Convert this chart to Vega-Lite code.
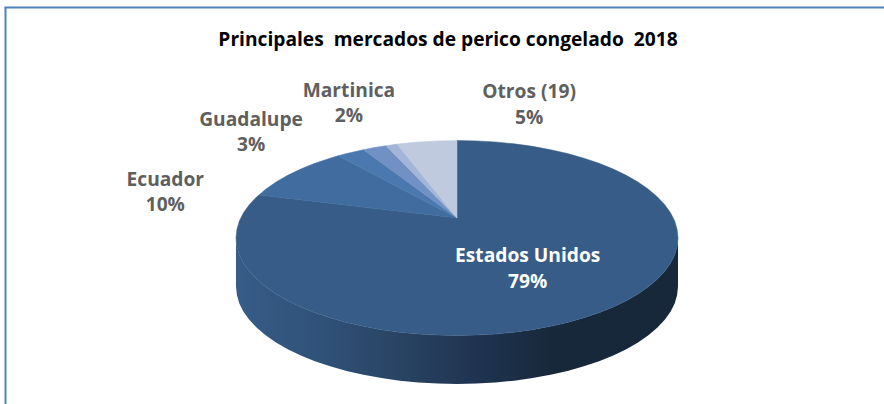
{
"$schema":"https://vega.github.io/schema/vega-lite/v6.json",
"width":884,"height":404,"padding":0,"autosize":{"type":"none"},
"background":"white",
"view":{"stroke":null},
"title":{"text":"Principales\u00a0 mercados de perico congelado\u00a0 2018","font":"Open Sans","fontSize":19.2,"fontWeight":"bold","color":"#000000","anchor":"middle","dx":6,"dy":0,"offset":-59,"baseline":"middle"},
"datasets":{
"slices":[
{"slice":"Estados Unidos","i":0,"u":0,"v":0.205},
{"slice":"Estados Unidos","i":1,"u":0,"v":1},
{"slice":"Estados Unidos","i":2,"u":0.087,"v":0.996},
{"slice":"Estados Unidos","i":3,"u":0.174,"v":0.985},
{"slice":"Estados Unidos","i":4,"u":0.259,"v":0.966},
{"slice":"Estados Unidos","i":5,"u":0.342,"v":0.94},
{"slice":"Estados Unidos","i":6,"u":0.423,"v":0.906},
{"slice":"Estados Unidos","i":7,"u":0.5,"v":0.866},
{"slice":"Estados Unidos","i":8,"u":0.574,"v":0.819},
{"slice":"Estados Unidos","i":9,"u":0.643,"v":0.766},
{"slice":"Estados Unidos","i":10,"u":0.707,"v":0.707},
{"slice":"Estados Unidos","i":11,"u":0.766,"v":0.643},
{"slice":"Estados Unidos","i":12,"u":0.819,"v":0.574},
{"slice":"Estados Unidos","i":13,"u":0.866,"v":0.5},
{"slice":"Estados Unidos","i":14,"u":0.906,"v":0.423},
{"slice":"Estados Unidos","i":15,"u":0.94,"v":0.342},
{"slice":"Estados Unidos","i":16,"u":0.966,"v":0.259},
{"slice":"Estados Unidos","i":17,"u":0.985,"v":0.174},
{"slice":"Estados Unidos","i":18,"u":0.996,"v":0.087},
{"slice":"Estados Unidos","i":19,"u":1,"v":0},
{"slice":"Estados Unidos","i":20,"u":0.996,"v":-0.087},
{"slice":"Estados Unidos","i":21,"u":0.985,"v":-0.174},
{"slice":"Estados Unidos","i":22,"u":0.966,"v":-0.259},
{"slice":"Estados Unidos","i":23,"u":0.94,"v":-0.342},
{"slice":"Estados Unidos","i":24,"u":0.906,"v":-0.423},
{"slice":"Estados Unidos","i":25,"u":0.866,"v":-0.5},
{"slice":"Estados Unidos","i":26,"u":0.819,"v":-0.574},
{"slice":"Estados Unidos","i":27,"u":0.766,"v":-0.643},
{"slice":"Estados Unidos","i":28,"u":0.707,"v":-0.707},
{"slice":"Estados Unidos","i":29,"u":0.643,"v":-0.766},
{"slice":"Estados Unidos","i":30,"u":0.574,"v":-0.819},
{"slice":"Estados Unidos","i":31,"u":0.5,"v":-0.866},
{"slice":"Estados Unidos","i":32,"u":0.423,"v":-0.906},
{"slice":"Estados Unidos","i":33,"u":0.342,"v":-0.94},
{"slice":"Estados Unidos","i":34,"u":0.259,"v":-0.966},
{"slice":"Estados Unidos","i":35,"u":0.174,"v":-0.985},
{"slice":"Estados Unidos","i":36,"u":0.087,"v":-0.996},
{"slice":"Estados Unidos","i":37,"u":0,"v":-1},
{"slice":"Estados Unidos","i":38,"u":-0.087,"v":-0.996},
{"slice":"Estados Unidos","i":39,"u":-0.174,"v":-0.985},
{"slice":"Estados Unidos","i":40,"u":-0.259,"v":-0.966},
{"slice":"Estados Unidos","i":41,"u":-0.342,"v":-0.94},
{"slice":"Estados Unidos","i":42,"u":-0.423,"v":-0.906},
{"slice":"Estados Unidos","i":43,"u":-0.5,"v":-0.866},
{"slice":"Estados Unidos","i":44,"u":-0.574,"v":-0.819},
{"slice":"Estados Unidos","i":45,"u":-0.643,"v":-0.766},
{"slice":"Estados Unidos","i":46,"u":-0.707,"v":-0.707},
{"slice":"Estados Unidos","i":47,"u":-0.766,"v":-0.643},
{"slice":"Estados Unidos","i":48,"u":-0.819,"v":-0.574},
{"slice":"Estados Unidos","i":49,"u":-0.866,"v":-0.5},
{"slice":"Estados Unidos","i":50,"u":-0.906,"v":-0.423},
{"slice":"Estados Unidos","i":51,"u":-0.94,"v":-0.342},
{"slice":"Estados Unidos","i":52,"u":-0.966,"v":-0.259},
{"slice":"Estados Unidos","i":53,"u":-0.985,"v":-0.174},
{"slice":"Estados Unidos","i":54,"u":-0.996,"v":-0.087},
{"slice":"Estados Unidos","i":55,"u":-1,"v":0},
{"slice":"Estados Unidos","i":56,"u":-0.996,"v":0.087},
{"slice":"Estados Unidos","i":57,"u":-0.985,"v":0.174},
{"slice":"Estados Unidos","i":58,"u":-0.966,"v":0.259},
{"slice":"Estados Unidos","i":59,"u":-0.94,"v":0.342},
{"slice":"Estados Unidos","i":60,"u":-0.906,"v":0.423},
{"slice":"Estados Unidos","i":61,"u":-0.896,"v":0.441},
{"slice":"Estados Unidos","i":62,"u":0,"v":0.205},
{"slice":"Ecuador","i":0,"u":0,"v":0.205},
{"slice":"Ecuador","i":1,"u":-0.896,"v":0.441},
{"slice":"Ecuador","i":2,"u":-0.866,"v":0.5},
{"slice":"Ecuador","i":3,"u":-0.819,"v":0.574},
{"slice":"Ecuador","i":4,"u":-0.766,"v":0.643},
{"slice":"Ecuador","i":5,"u":-0.707,"v":0.707},
{"slice":"Ecuador","i":6,"u":-0.643,"v":0.766},
{"slice":"Ecuador","i":7,"u":-0.574,"v":0.819},
{"slice":"Ecuador","i":8,"u":-0.538,"v":0.843},
{"slice":"Ecuador","i":9,"u":0,"v":0.205},
{"slice":"Guadalupe","i":0,"u":0,"v":0.205},
{"slice":"Guadalupe","i":1,"u":-0.538,"v":0.843},
{"slice":"Guadalupe","i":2,"u":-0.5,"v":0.866},
{"slice":"Guadalupe","i":3,"u":-0.423,"v":0.906},
{"slice":"Guadalupe","i":4,"u":0,"v":0.205},
{"slice":"Martinica","i":0,"u":0,"v":0.205},
{"slice":"Martinica","i":1,"u":-0.423,"v":0.906},
{"slice":"Martinica","i":2,"u":-0.375,"v":0.927},
{"slice":"Martinica","i":3,"u":-0.321,"v":0.947},
{"slice":"Martinica","i":4,"u":0,"v":0.205},
{"slice":"Otro menor","i":0,"u":0,"v":0.205},
{"slice":"Otro menor","i":1,"u":-0.321,"v":0.947},
{"slice":"Otro menor","i":2,"u":-0.271,"v":0.963},
{"slice":"Otro menor","i":3,"u":0,"v":0.205},
{"slice":"Otros (19)","i":0,"u":0,"v":0.205},
{"slice":"Otros (19)","i":1,"u":-0.271,"v":0.963},
{"slice":"Otros (19)","i":2,"u":-0.216,"v":0.976},
{"slice":"Otros (19)","i":3,"u":-0.174,"v":0.985},
{"slice":"Otros (19)","i":4,"u":-0.087,"v":0.996},
{"slice":"Otros (19)","i":5,"u":0,"v":1},
{"slice":"Otros (19)","i":6,"u":0,"v":0.205}
],
"wall":[
{"u":-1,"v":0,"v2":-0.497},
{"u":-0.996,"v":-0.087,"v2":-0.584},
{"u":-0.985,"v":-0.174,"v2":-0.671},
{"u":-0.966,"v":-0.259,"v2":-0.756},
{"u":-0.94,"v":-0.342,"v2":-0.839},
{"u":-0.906,"v":-0.423,"v2":-0.92},
{"u":-0.866,"v":-0.5,"v2":-0.997},
{"u":-0.819,"v":-0.574,"v2":-1.071},
{"u":-0.766,"v":-0.643,"v2":-1.14},
{"u":-0.707,"v":-0.707,"v2":-1.204},
{"u":-0.643,"v":-0.766,"v2":-1.263},
{"u":-0.574,"v":-0.819,"v2":-1.316},
{"u":-0.5,"v":-0.866,"v2":-1.363},
{"u":-0.423,"v":-0.906,"v2":-1.403},
{"u":-0.342,"v":-0.94,"v2":-1.437},
{"u":-0.259,"v":-0.966,"v2":-1.463},
{"u":-0.174,"v":-0.985,"v2":-1.482},
{"u":-0.087,"v":-0.996,"v2":-1.493},
{"u":0,"v":-1,"v2":-1.497},
{"u":0.087,"v":-0.996,"v2":-1.493},
{"u":0.174,"v":-0.985,"v2":-1.482},
{"u":0.259,"v":-0.966,"v2":-1.463},
{"u":0.342,"v":-0.94,"v2":-1.437},
{"u":0.423,"v":-0.906,"v2":-1.403},
{"u":0.5,"v":-0.866,"v2":-1.363},
{"u":0.574,"v":-0.819,"v2":-1.316},
{"u":0.643,"v":-0.766,"v2":-1.263},
{"u":0.707,"v":-0.707,"v2":-1.204},
{"u":0.766,"v":-0.643,"v2":-1.14},
{"u":0.819,"v":-0.574,"v2":-1.071},
{"u":0.866,"v":-0.5,"v2":-0.997},
{"u":0.906,"v":-0.423,"v2":-0.92},
{"u":0.94,"v":-0.342,"v2":-0.839},
{"u":0.966,"v":-0.259,"v2":-0.756},
{"u":0.985,"v":-0.174,"v2":-0.671},
{"u":0.996,"v":-0.087,"v2":-0.584},
{"u":1,"v":0,"v2":-0.497}
],
"labels":[
{"label":"Estados Unidos\n79%","tone":"inside","u":0.32,"v":-0.187},
{"label":"Ecuador\n10%","tone":"outside","u":-1.32,"v":0.598},
{"label":"Guadalupe\n3%","tone":"outside","u":-0.932,"v":1.213},
{"label":"Martinica\n2%","tone":"outside","u":-0.489,"v":1.508},
{"label":"Otros (19)\n5%","tone":"outside","u":0.326,"v":1.493}
],
"frameTop":[{"u":-2.047,"u2":1.932,"v":2.364}],
"frameLeft":[{"u":-2.043,"v":2.37,"v2":-1.703}]
},
"layer":[
{"data":{"name":"frameTop"},"mark":{"type":"rule","color":"#4F81BD","strokeWidth":2},
 "encoding":{"x":{"field":"u","type":"quantitative","scale":{"domain":[-2.0679,1.9321]},"axis":null},"x2":{"field":"u2"},"y":{"field":"v","type":"quantitative","scale":{"domain":[-1.7026,2.441]},"axis":null}}},
{"data":{"name":"frameLeft"},"mark":{"type":"rule","color":"#4F81BD","strokeWidth":2},
 "encoding":{"x":{"field":"u","type":"quantitative","scale":{"domain":[-2.0679,1.9321]},"axis":null},"y":{"field":"v","type":"quantitative","scale":{"domain":[-1.7026,2.441]},"axis":null},"y2":{"field":"v2"}}},
{"data":{"name":"wall"},"mark":{"type":"area","fill":{"gradient":"linear","x1":0,"y1":0,"x2":1,"y2":0,"stops":[{"offset":0,"color":"#375C87"},{"offset":0.18,"color":"#30527A"},{"offset":0.35,"color":"#2A4565"},{"offset":0.55,"color":"#1F3350"},{"offset":0.72,"color":"#17283A"},{"offset":1,"color":"#18273A"}]}},
 "encoding":{"x":{"field":"u","type":"quantitative","scale":{"domain":[-2.0679,1.9321]},"axis":null},"y":{"field":"v","type":"quantitative","scale":{"domain":[-1.7026,2.441]},"axis":null},"y2":{"field":"v2"}}},
{"data":{"name":"slices"},"mark":{"type":"line","strokeWidth":0.5},
 "encoding":{"x":{"field":"u","type":"quantitative","scale":{"domain":[-2.0679,1.9321]},"axis":null},"y":{"field":"v","type":"quantitative","scale":{"domain":[-1.7026,2.441]},"axis":null},"order":{"field":"i","type":"quantitative"},
 "fill":{"field":"slice","type":"nominal","legend":null,"scale":{"domain":["Estados Unidos","Ecuador","Guadalupe","Martinica","Otro menor","Otros (19)"],"range":["#375C87","#406C9F","#4A78AF","#7190C4","#A4B6D8","#BFCADF"]}},
 "stroke":{"field":"slice","type":"nominal","legend":null,"scale":{"domain":["Estados Unidos","Ecuador","Guadalupe","Martinica","Otro menor","Otros (19)"],"range":["#375C87","#406C9F","#4A78AF","#7190C4","#A4B6D8","#BFCADF"]}}}},
{"data":{"name":"labels"},"mark":{"type":"text","font":"Open Sans","fontSize":19.2,"fontWeight":"bold","lineBreak":"\n","lineHeight":25.5,"align":"center","baseline":"middle"},
 "encoding":{"x":{"field":"u","type":"quantitative","scale":{"domain":[-2.0679,1.9321]},"axis":null},"y":{"field":"v","type":"quantitative","scale":{"domain":[-1.7026,2.441]},"axis":null},"text":{"field":"label","type":"nominal"},
 "color":{"field":"tone","type":"nominal","legend":null,"scale":{"domain":["inside","outside"],"range":["#FFFFFF","#5F5F5F"]}}}}
]
}
